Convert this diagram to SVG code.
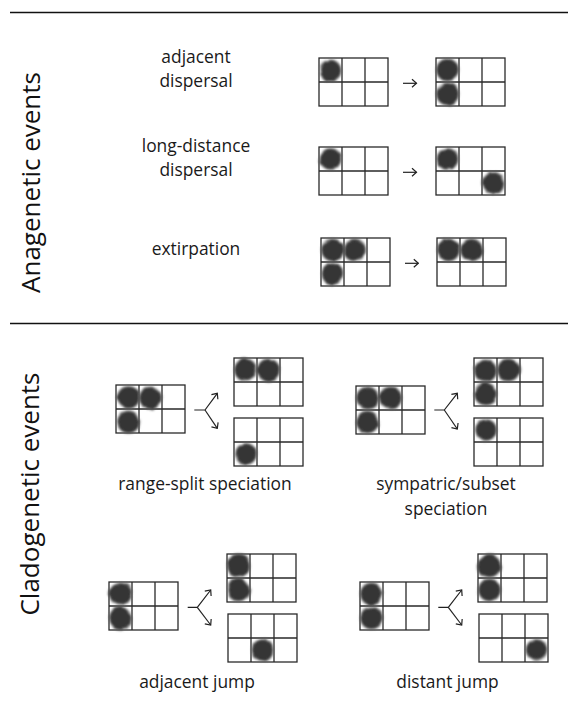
<svg xmlns="http://www.w3.org/2000/svg" xmlns:xlink="http://www.w3.org/1999/xlink" width="568" height="719" viewBox="0 0 568 719">
<style>
  .lbl { font-family: "Open Sans", "Liberation Sans", sans-serif; font-size: 17.4px; fill: #1a1a1a; text-anchor: middle; }
  .side { font-family: "Open Sans", "Liberation Sans", sans-serif; font-size: 26px; fill: #111; text-anchor: middle; }
  .sep { stroke: #111; stroke-width: 1.6; }
  .grid rect, .grid path { fill: none; stroke: #2a2a2a; stroke-width: 1.3; }
  .blob { fill: #353535; stroke: #6a6a6a; stroke-opacity: 0.5; stroke-width: 1.8; filter: url(#fuzz); }
  .conn { fill: none; stroke: #222; stroke-width: 1.2; marker-end: url(#ah); }
</style>
<defs>
  <filter id="fuzz" x="-40%" y="-40%" width="180%" height="180%">
    <feTurbulence type="fractalNoise" baseFrequency="0.08" numOctaves="2" seed="4" result="n"/>
    <feDisplacementMap in="SourceGraphic" in2="n" scale="3.5" xChannelSelector="R" yChannelSelector="G" result="d"/>
    <feGaussianBlur in="d" stdDeviation="0.8"/>
  </filter>
  <g id="g" class="grid"><rect x="0" y="0" width="69" height="48"/><path d="M23,0V48M46,0V48M0,24H69"/></g>
  <marker id="ah" markerUnits="userSpaceOnUse" viewBox="-7 -6 8 12" markerWidth="8" markerHeight="12" refX="0" refY="0" orient="auto">
    <path d="M-4.5,-4 L0,0 L-4.5,4" fill="none" stroke="#222" stroke-width="1.2"/>
  </marker>
</defs>
<rect width="568" height="719" fill="#fff"/>

<line class="sep" x1="10" y1="12.5" x2="568" y2="12.5"/>
<line class="sep" x1="10" y1="323.5" x2="568" y2="323.5"/>

<text class="side" transform="translate(40,182.5) rotate(-90)">Anagenetic events</text>
<text class="side" transform="translate(39,494) rotate(-90)">Cladogenetic events</text>

<!-- Anagenetic -->
<g id="adjacent-dispersal">
  <text class="lbl" x="196" y="63">adjacent</text>
  <text class="lbl" x="196" y="87">dispersal</text>
  <g id="ad-before"><use xlink:href="#g" x="319" y="58"/><circle class="blob" cx="330.5" cy="70.5" r="10.5"/></g>
  <g id="ad-after"><use xlink:href="#g" x="436" y="58"/><circle class="blob" cx="447.5" cy="70" r="11"/><circle class="blob" cx="447.5" cy="94" r="11"/></g>
</g>
<g id="long-distance-dispersal">
  <text class="lbl" x="196" y="152">long-distance</text>
  <text class="lbl" x="196" y="176">dispersal</text>
  <g id="ld-before"><use xlink:href="#g" x="319" y="147"/><circle class="blob" cx="330.5" cy="159" r="10.5"/></g>
  <g id="ld-after"><use xlink:href="#g" x="436" y="147"/><circle class="blob" cx="447.5" cy="159" r="10.5"/><circle class="blob" cx="493.5" cy="183" r="10.5"/></g>
</g>
<g id="extirpation">
  <text class="lbl" x="196" y="255">extirpation</text>
  <g id="ex-before"><use xlink:href="#g" x="321" y="238"/><circle class="blob" cx="332.5" cy="250" r="11"/><circle class="blob" cx="354.5" cy="250" r="11"/><circle class="blob" cx="332.5" cy="274" r="10.5"/></g>
  <g id="ex-after"><use xlink:href="#g" x="437" y="238"/><circle class="blob" cx="448.5" cy="250" r="11"/><circle class="blob" cx="471.5" cy="250" r="11"/></g>
</g>

<!-- Cladogenetic -->
<g id="range-split">
  <text class="lbl" x="205" y="490">range-split speciation</text>
  <g id="rs-parent"><use xlink:href="#g" x="116" y="385"/><circle class="blob" cx="128.5" cy="397.5" r="11"/><circle class="blob" cx="150.5" cy="398" r="11"/><circle class="blob" cx="128.5" cy="422" r="11"/></g>
  <g id="rs-top"><use xlink:href="#g" x="234" y="358"/><circle class="blob" cx="245.5" cy="370" r="11"/><circle class="blob" cx="268.5" cy="370" r="11"/></g>
  <g id="rs-bottom"><use xlink:href="#g" x="234" y="418"/><circle class="blob" cx="246" cy="454" r="10.5"/></g>
</g>
<g id="sympatric">
  <text class="lbl" x="446" y="490">sympatric/subset</text>
  <text class="lbl" x="446" y="515">speciation</text>
  <g id="sy-parent"><use xlink:href="#g" x="356" y="386"/><circle class="blob" cx="367.5" cy="398" r="11"/><circle class="blob" cx="390.5" cy="398" r="11"/><circle class="blob" cx="367.5" cy="422" r="11"/></g>
  <g id="sy-top"><use xlink:href="#g" x="474" y="358"/><circle class="blob" cx="485.5" cy="371" r="11"/><circle class="blob" cx="508.5" cy="370" r="11"/><circle class="blob" cx="485.5" cy="394" r="11"/></g>
  <g id="sy-bottom"><use xlink:href="#g" x="474" y="418"/><circle class="blob" cx="486" cy="430" r="10.5"/></g>
</g>
<g id="adjacent-jump">
  <text class="lbl" x="197" y="688">adjacent jump</text>
  <g id="aj-parent"><use xlink:href="#g" x="109" y="582"/><circle class="blob" cx="120.5" cy="594" r="11"/><circle class="blob" cx="120.5" cy="618" r="11"/></g>
  <g id="aj-top"><use xlink:href="#g" x="227" y="554"/><circle class="blob" cx="238.5" cy="566" r="11"/><circle class="blob" cx="238.5" cy="590" r="11"/></g>
  <g id="aj-bottom"><use xlink:href="#g" x="228" y="614"/><circle class="blob" cx="262.5" cy="650" r="10.5"/></g>
</g>
<g id="distant-jump">
  <text class="lbl" x="447.5" y="688">distant jump</text>
  <g id="dj-parent"><use xlink:href="#g" x="360" y="582"/><circle class="blob" cx="371.5" cy="594" r="11"/><circle class="blob" cx="371.5" cy="618" r="11"/></g>
  <g id="dj-top"><use xlink:href="#g" x="478" y="554"/><circle class="blob" cx="489.5" cy="566" r="11"/><circle class="blob" cx="489.5" cy="590" r="11"/></g>
  <g id="dj-bottom"><use xlink:href="#g" x="479" y="614"/><circle class="blob" cx="536.5" cy="650" r="10.5"/></g>
</g>

<g id="connectors">
  <path class="conn" d="M403,83.3 H416.5"/>
  <path class="conn" d="M403,172.3 H416.5"/>
  <path class="conn" d="M405,263.3 H418.3"/>
  <path class="conn" d="M194.3,410 H205 L217.3,393.3"/>
  <path class="conn" d="M205,410 L217.3,428.3"/>
  <path class="conn" d="M434.3,410 H444.3 L457.3,393.3"/>
  <path class="conn" d="M444.3,410 L457.3,429"/>
  <path class="conn" d="M187.7,607.3 H197.3 L210.7,590"/>
  <path class="conn" d="M197.3,607.3 L210.7,625"/>
  <path class="conn" d="M438.3,607.3 H448.3 L461.7,590"/>
  <path class="conn" d="M448.3,607.3 L461.7,625"/>
</g>
</svg>
